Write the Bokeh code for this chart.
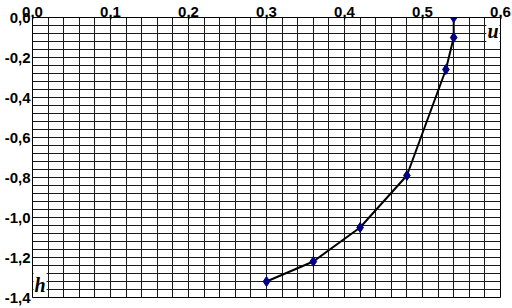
import numpy as np
from bokeh.plotting import figure
from bokeh.models import FixedTicker, Range1d, LinearAxis, Label
from bokeh.embed import file_html
from bokeh.resources import INLINE

u_vals = [0.54, 0.54, 0.53, 0.48, 0.42, 0.36, 0.30]
h_vals = [0.0, -0.10, -0.26, -0.79, -1.05, -1.22, -1.32]

x_ticks = [0.0, 0.1, 0.2, 0.3, 0.4, 0.5, 0.6]
x_labels = ["0,0", "0,1", "0,2", "0,3", "0,4", "0,5", "0,6"]
y_ticks = [0.0, -0.2, -0.4, -0.6, -0.8, -1.0, -1.2, -1.4]
y_labels = ["0,0", "-0,2", "-0,4", "-0,6", "-0,8", "-1,0", "-1,2", "-1,4"]

p = figure(width=512, height=308, output_backend="svg", toolbar_location=None,
           x_range=Range1d(0, 0.6), y_range=Range1d(-1.4, 0),
           x_axis_location=None, y_axis_location=None,
           min_border_left=32, min_border_right=12, min_border_top=17, min_border_bottom=11)
p.background_fill_color = "white"
p.border_fill_color = "white"
p.outline_line_color = "black"
p.outline_line_width = 1

font = "Liberation Sans"
xa = LinearAxis(ticker=FixedTicker(ticks=x_ticks, minor_ticks=[]))
xa.major_label_overrides = {t: l for t, l in zip(x_ticks, x_labels)}
ya = LinearAxis(ticker=FixedTicker(ticks=y_ticks, minor_ticks=[]))
ya.major_label_overrides = {t: l for t, l in zip(y_ticks, y_labels)}
for ax in (xa, ya):
    ax.major_label_text_font = font
    ax.major_label_text_font_style = "bold"
    ax.major_label_text_font_size = "15px"
    ax.major_label_text_color = "black"
    ax.major_tick_out = 0
    ax.major_tick_in = 0
    ax.minor_tick_out = 0
    ax.minor_tick_in = 0
    ax.axis_line_color = "black"
xa.major_label_standoff = 1
ya.major_label_standoff = 2
p.add_layout(xa, "above")
p.add_layout(ya, "left")

p.xgrid.ticker = FixedTicker(ticks=list(np.round(np.arange(0, 0.6001, 0.02), 3)))
p.ygrid.ticker = FixedTicker(ticks=list(np.round(np.arange(-1.4, 0.0001, 0.04), 3)))
for g in (p.xgrid, p.ygrid):
    g.grid_line_color = "#1a1a1a"
    g.grid_line_width = 1

p.line(u_vals, h_vals, line_color="black", line_width=2)
p.scatter(u_vals, h_vals, marker="diamond", size=10, fill_color="#000080", line_color="#000080")

lab_u = Label(x=0.6, y=0.0, text="u", anchor="top_right", text_color="black",
              text_font="Liberation Serif", text_font_style="bold italic", text_font_size="20px",
              background_fill_color="white", padding=1, x_offset=-1, y_offset=-1)
lab_h = Label(x=0.0, y=-1.4, text="h", anchor="bottom_left", text_color="black",
              text_font="Liberation Serif", text_font_style="bold italic", text_font_size="20px",
              background_fill_color="white", padding=1, x_offset=1, y_offset=1)
p.add_layout(lab_u)
p.add_layout(lab_h)

open("out.html", "w").write(file_html(p, INLINE))
